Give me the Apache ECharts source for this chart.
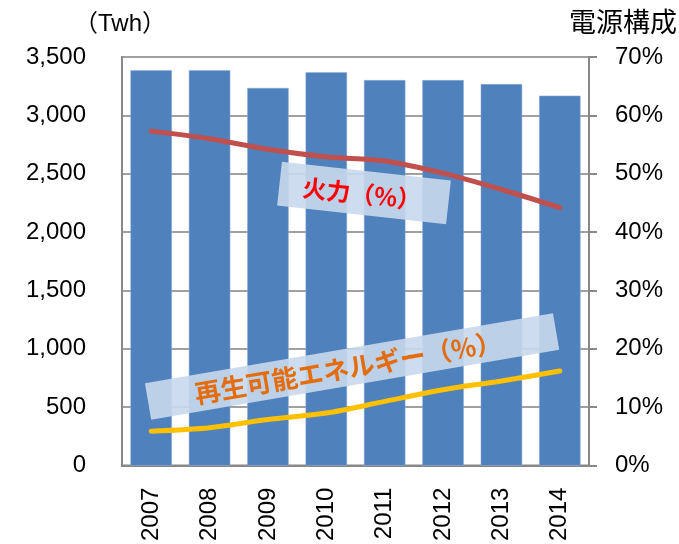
<!DOCTYPE html>
<html><head><meta charset="utf-8">
<script src="https://cdn.jsdelivr.net/npm/echarts@6/dist/echarts.min.js"></script>
<style>html,body{margin:0;padding:0;background:#fff}#c{width:679px;height:544px}</style>
</head><body><div id="c"></div>
<script>
var years = ['2007','2008','2009','2010','2011','2012','2013','2014'];
var generation = [3387, 3387, 3235, 3370, 3302, 3302, 3268, 3169];
var thermalPct = [57.3, 56.0, 54.2, 52.9, 52.2, 50.1, 47.3, 44.2];
var renewablePct = [5.9, 6.5, 7.9, 9.0, 11.0, 13.0, 14.5, 16.2];
var leftTicks = {min: 0, max: 3500, interval: 500};
var rightTicks = {min: 0, max: 70, interval: 10};

var FONT = "'Liberation Sans', Arial, 'Noto Sans CJK JP', sans-serif";
var chart = echarts.init(document.getElementById('c'), null, {renderer: 'canvas'});
chart.setOption({
  animation: false,
  grid: {left: 122, right: 90, top: 57, bottom: 76, show: true, borderColor: '#888', borderWidth: 2, containLabel: false},
  xAxis: {
    type: 'category', data: years,
    axisLine: {show: true, lineStyle: {color: '#888', width: 2}},
    axisTick: {show: false},
    axisLabel: {rotate: 90, margin: 22, color: '#000', fontSize: 24, fontFamily: FONT}
  },
  yAxis: [{
    type: 'value', min: leftTicks.min, max: leftTicks.max, interval: leftTicks.interval,
    axisLine: {show: true, lineStyle: {color: '#888', width: 2}},
    axisTick: {show: false},
    splitLine: {show: true, lineStyle: {color: '#a0a0a0', width: 2}},
    axisLabel: {margin: 36, color: '#000', fontSize: 24, fontFamily: FONT,
      formatter: function (v) { return v.toLocaleString('en-US'); }}
  }, {
    type: 'value', min: rightTicks.min, max: rightTicks.max, interval: rightTicks.interval,
    position: 'right',
    axisLine: {show: true, lineStyle: {color: '#888', width: 2}},
    axisTick: {show: true, length: 8, lineStyle: {color: '#888', width: 2}},
    splitLine: {show: false},
    axisLabel: {margin: 26, color: '#000', fontSize: 24, fontFamily: FONT, formatter: '{value}%'}
  }],
  series: [{
    type: 'bar', data: generation, barWidth: '71%', z: 2,
    itemStyle: {color: '#4f81bd', borderColor: '#8eaedb', borderWidth: 0.5}
  }, {
    type: 'line', yAxisIndex: 1, data: thermalPct, smooth: 0.3, symbol: 'none', z: 6,
    lineStyle: {color: '#c0504d', width: 5, cap: 'round'}
  }, {
    type: 'line', yAxisIndex: 1, data: renewablePct, smooth: 0.3, symbol: 'none', z: 6,
    lineStyle: {color: '#ffc000', width: 5, cap: 'round'}
  }],
  graphic: [
    {type: 'text', left: 74, top: 12, z: 10,
      style: {text: '（Twh）', fontSize: 24, fontFamily: FONT, fill: '#000'}},
    {type: 'text', right: 2, top: 8, z: 10,
      style: {text: '電源構成', fontSize: 27, fontFamily: "'Noto Sans CJK JP', sans-serif", fill: '#000'}},
    {type: 'group', x: 364, y: 193, rotation: -0.11, z: 4, children: [
      {type: 'rect', z: 4, shape: {x: -85, y: -22, width: 170, height: 44},
        style: {fill: '#c8d8ec', opacity: 0.9}},
      {type: 'text', z: 5, x: -2, y: 1, style: {text: '火力（%）', fontSize: 24, fontWeight: 'bold',
        fontFamily: "'Noto Sans CJK JP', sans-serif", fill: '#ff0000', align: 'center', verticalAlign: 'middle'}}
    ]},
    {type: 'group', x: 352, y: 366, rotation: 0.17, z: 4, children: [
      {type: 'rect', z: 4, shape: {x: -207, y: -18, width: 414, height: 37},
        style: {fill: '#c8d8ec', opacity: 0.9}},
      {type: 'text', z: 5, x: -4, y: 1, style: {text: '再生可能エネルギー（%）', fontSize: 26, fontWeight: 'bold',
        fontFamily: "'Noto Sans CJK JP', sans-serif", fill: '#e46c0a', align: 'center', verticalAlign: 'middle'}}
    ]}
  ]
});
</script></body></html>
